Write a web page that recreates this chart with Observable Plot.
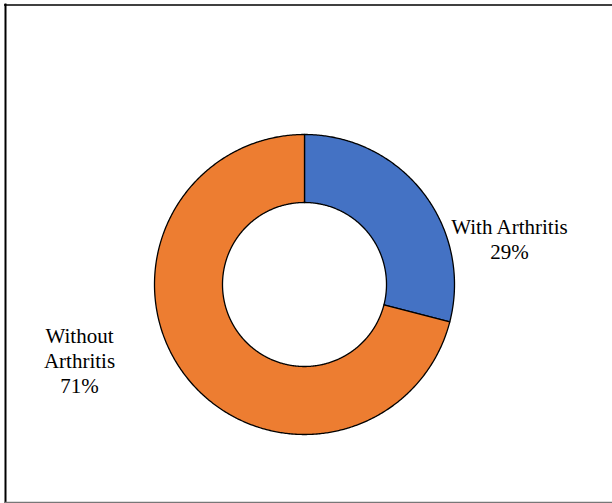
<!DOCTYPE html>
<html>
<head>
<meta charset="utf-8">
<script src="https://cdn.jsdelivr.net/npm/d3@7"></script>
<script src="https://cdn.jsdelivr.net/npm/@observablehq/plot@0.6"></script>
<style>
  html, body { margin: 0; padding: 0; background: #fff; }
  #chart svg { display: block; }
</style>
</head>
<body>
<div id="chart"></div>
<script>
const categories = ["With Arthritis", "Without Arthritis"];
const values = [29, 71];
const labels = ["With Arthritis\n29%", "Without\nArthritis\n71%"];
const colors = ["#4472C4", "#ED7D31"];

const W = 612, H = 503;
const cx = 304, cy = 284, rOuter = 150, rInner = 82;

const pie = d3.pie().sort(null).value(d => d.value);
const arcs = pie(categories.map((c, i) => ({category: c, value: values[i]})));

// Build polygon points for each donut slice from pie angles
const pts = [];
arcs.forEach(a => {
  const c = a.data.category;
  const n = Math.max(2, Math.ceil((a.endAngle - a.startAngle) / (Math.PI / 360)));
  const ring = [];
  for (let k = 0; k <= n; k++) {
    const t = a.startAngle + (a.endAngle - a.startAngle) * k / n;
    ring.push([cx + rOuter * Math.sin(t), cy - rOuter * Math.cos(t)]);
  }
  for (let k = n; k >= 0; k--) {
    const t = a.startAngle + (a.endAngle - a.startAngle) * k / n;
    ring.push([cx + rInner * Math.sin(t), cy - rInner * Math.cos(t)]);
  }
  ring.push(ring[0]);
  ring.forEach(([x, y]) => pts.push({category: c, x, y}));
});

const labelData = [
  {text: labels[0], x: 509, y: 216.5},
  {text: labels[1], x: 79, y: 325.5}
];

const chart = Plot.plot({
  width: W,
  height: H,
  margin: 0,
  x: {domain: [0, W], range: [0, W], axis: null},
  y: {domain: [0, H], range: [0, H], axis: null},
  color: {domain: categories, range: colors},
  style: {background: "#fff", fontFamily: "'Liberation Serif', 'Times New Roman', serif"},
  marks: [
    Plot.line(pts, {x: "x", y: "y", z: "category", fill: "category", stroke: "#000", strokeWidth: 1.3, curve: "linear"}),
    Plot.text(labelData, {x: "x", y: "y", text: "text", textAnchor: "middle", lineAnchor: "top", lineHeight: 1.17,
      fontFamily: "'Liberation Serif', 'Times New Roman', serif", fontSize: 21, fill: "#000"}),
    Plot.ruleX([5], {y1: 3.5, y2: 503, stroke: "#000", strokeWidth: 2}),
    Plot.ruleY([4.5], {x1: 4, x2: W, stroke: "#000", strokeWidth: 1.5}),
    Plot.ruleY([502], {x1: 4, x2: W, stroke: "#777", strokeWidth: 1.5})
  ]
});
document.getElementById("chart").appendChild(chart);
</script>
</body>
</html>
